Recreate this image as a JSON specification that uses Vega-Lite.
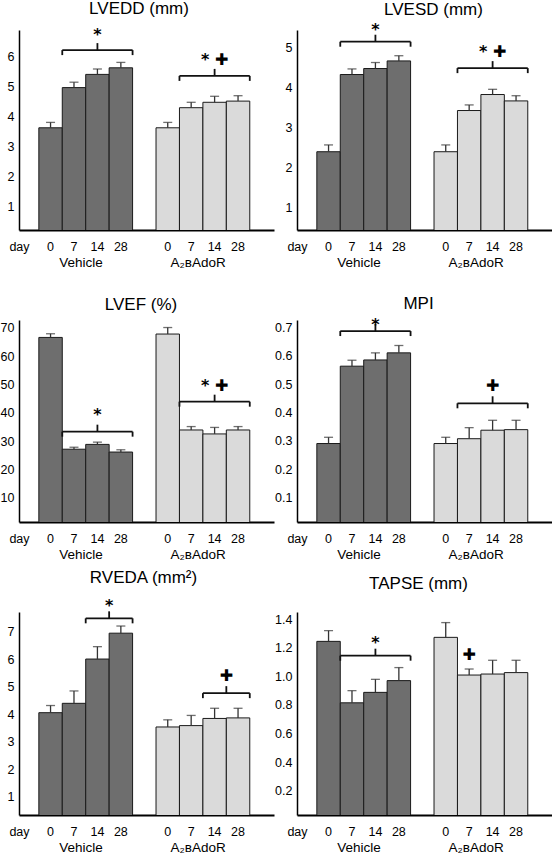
{
"$schema": "https://vega.github.io/schema/vega-lite/v6.json",
"padding": {"left": 0, "top": 0, "right": 0, "bottom": 0},
"background": "white",
"datasets": {
"bars": [
{"panel":"LVEDD","group":"Vehicle","cond":"Vehicle|0","mean":3.64,"upper":3.82},
{"panel":"LVEDD","group":"Vehicle","cond":"Vehicle|7","mean":4.98,"upper":5.16},
{"panel":"LVEDD","group":"Vehicle","cond":"Vehicle|14","mean":5.42,"upper":5.60},
{"panel":"LVEDD","group":"Vehicle","cond":"Vehicle|28","mean":5.64,"upper":5.82},
{"panel":"LVEDD","group":"A2BAdoR","cond":"A2BAdoR|0","mean":3.64,"upper":3.82},
{"panel":"LVEDD","group":"A2BAdoR","cond":"A2BAdoR|7","mean":4.31,"upper":4.49},
{"panel":"LVEDD","group":"A2BAdoR","cond":"A2BAdoR|14","mean":4.49,"upper":4.69},
{"panel":"LVEDD","group":"A2BAdoR","cond":"A2BAdoR|28","mean":4.53,"upper":4.71},
{"panel":"LVESD","group":"Vehicle","cond":"Vehicle|0","mean":2.40,"upper":2.57},
{"panel":"LVESD","group":"Vehicle","cond":"Vehicle|7","mean":4.33,"upper":4.47},
{"panel":"LVESD","group":"Vehicle","cond":"Vehicle|14","mean":4.48,"upper":4.63},
{"panel":"LVESD","group":"Vehicle","cond":"Vehicle|28","mean":4.67,"upper":4.80},
{"panel":"LVESD","group":"A2BAdoR","cond":"A2BAdoR|0","mean":2.40,"upper":2.57},
{"panel":"LVESD","group":"A2BAdoR","cond":"A2BAdoR|7","mean":3.43,"upper":3.57},
{"panel":"LVESD","group":"A2BAdoR","cond":"A2BAdoR|14","mean":3.83,"upper":3.96},
{"panel":"LVESD","group":"A2BAdoR","cond":"A2BAdoR|28","mean":3.67,"upper":3.80},
{"panel":"LVEF","group":"Vehicle","cond":"Vehicle|0","mean":66.6,"upper":67.9},
{"panel":"LVEF","group":"Vehicle","cond":"Vehicle|7","mean":27.1,"upper":27.8},
{"panel":"LVEF","group":"Vehicle","cond":"Vehicle|14","mean":28.8,"upper":29.6},
{"panel":"LVEF","group":"Vehicle","cond":"Vehicle|28","mean":26.1,"upper":26.9},
{"panel":"LVEF","group":"A2BAdoR","cond":"A2BAdoR|0","mean":67.8,"upper":70.1},
{"panel":"LVEF","group":"A2BAdoR","cond":"A2BAdoR|7","mean":33.9,"upper":35.1},
{"panel":"LVEF","group":"A2BAdoR","cond":"A2BAdoR|14","mean":32.5,"upper":34.8},
{"panel":"LVEF","group":"A2BAdoR","cond":"A2BAdoR|28","mean":33.9,"upper":35.1},
{"panel":"MPI","group":"Vehicle","cond":"Vehicle|0","mean":0.291,"upper":0.313},
{"panel":"MPI","group":"Vehicle","cond":"Vehicle|7","mean":0.564,"upper":0.585},
{"panel":"MPI","group":"Vehicle","cond":"Vehicle|14","mean":0.586,"upper":0.611},
{"panel":"MPI","group":"Vehicle","cond":"Vehicle|28","mean":0.611,"upper":0.637},
{"panel":"MPI","group":"A2BAdoR","cond":"A2BAdoR|0","mean":0.291,"upper":0.313},
{"panel":"MPI","group":"A2BAdoR","cond":"A2BAdoR|7","mean":0.308,"upper":0.347},
{"panel":"MPI","group":"A2BAdoR","cond":"A2BAdoR|14","mean":0.338,"upper":0.373},
{"panel":"MPI","group":"A2BAdoR","cond":"A2BAdoR|28","mean":0.340,"upper":0.373},
{"panel":"RVEDA","group":"Vehicle","cond":"Vehicle|0","mean":4.05,"upper":4.31},
{"panel":"RVEDA","group":"Vehicle","cond":"Vehicle|7","mean":4.39,"upper":4.84},
{"panel":"RVEDA","group":"Vehicle","cond":"Vehicle|14","mean":6.00,"upper":6.45},
{"panel":"RVEDA","group":"Vehicle","cond":"Vehicle|28","mean":6.94,"upper":7.20},
{"panel":"RVEDA","group":"A2BAdoR","cond":"A2BAdoR|0","mean":3.53,"upper":3.79},
{"panel":"RVEDA","group":"A2BAdoR","cond":"A2BAdoR|7","mean":3.58,"upper":3.95},
{"panel":"RVEDA","group":"A2BAdoR","cond":"A2BAdoR|14","mean":3.84,"upper":4.21},
{"panel":"RVEDA","group":"A2BAdoR","cond":"A2BAdoR|28","mean":3.86,"upper":4.21},
{"panel":"TAPSE","group":"Vehicle","cond":"Vehicle|0","mean":1.244,"upper":1.319},
{"panel":"TAPSE","group":"Vehicle","cond":"Vehicle|7","mean":0.815,"upper":0.900},
{"panel":"TAPSE","group":"Vehicle","cond":"Vehicle|14","mean":0.888,"upper":0.979},
{"panel":"TAPSE","group":"Vehicle","cond":"Vehicle|28","mean":0.970,"upper":1.061},
{"panel":"TAPSE","group":"A2BAdoR","cond":"A2BAdoR|0","mean":1.272,"upper":1.375},
{"panel":"TAPSE","group":"A2BAdoR","cond":"A2BAdoR|7","mean":1.009,"upper":1.051},
{"panel":"TAPSE","group":"A2BAdoR","cond":"A2BAdoR|14","mean":1.016,"upper":1.112},
{"panel":"TAPSE","group":"A2BAdoR","cond":"A2BAdoR|28","mean":1.026,"upper":1.112}
],
"brackets": [
{"panel":"LVEDD","from":"Vehicle|7","to":"Vehicle|28","at":"Vehicle|14","edge":"center","level":6.23},
{"panel":"LVEDD","from":"A2BAdoR|7","to":"A2BAdoR|28","at":"A2BAdoR|14","edge":"center","level":5.37},
{"panel":"LVESD","from":"Vehicle|7","to":"Vehicle|28","at":"Vehicle|14","edge":"center","level":5.15},
{"panel":"LVESD","from":"A2BAdoR|7","to":"A2BAdoR|28","at":"A2BAdoR|14","edge":"center","level":4.49},
{"panel":"LVEF","from":"Vehicle|7","to":"Vehicle|28","at":"Vehicle|14","edge":"center","level":33.3},
{"panel":"LVEF","from":"A2BAdoR|7","to":"A2BAdoR|28","at":"A2BAdoR|14","edge":"center","level":43.9},
{"panel":"MPI","from":"Vehicle|7","to":"Vehicle|28","at":"Vehicle|14","edge":"center","level":0.688},
{"panel":"MPI","from":"A2BAdoR|7","to":"A2BAdoR|28","at":"A2BAdoR|14","edge":"center","level":0.433},
{"panel":"RVEDA","from":"Vehicle|14","to":"Vehicle|28","at":"Vehicle|14","edge":"end","level":7.48},
{"panel":"RVEDA","from":"A2BAdoR|14","to":"A2BAdoR|28","at":"A2BAdoR|14","edge":"end","level":4.76},
{"panel":"TAPSE","from":"Vehicle|7","to":"Vehicle|28","at":"Vehicle|14","edge":"center","level":1.144}
],
"signif": [
{"panel":"LVEDD","at":"Vehicle|14","edge":"center","label":"*","level":6.83},
{"panel":"LVEDD","at":"A2BAdoR|14","edge":"center","label":"* ✚","level":6.0},
{"panel":"LVESD","at":"Vehicle|14","edge":"center","label":"*","level":5.53},
{"panel":"LVESD","at":"A2BAdoR|14","edge":"center","label":"* ✚","level":4.96},
{"panel":"LVEF","at":"Vehicle|14","edge":"center","label":"*","level":40.4},
{"panel":"LVEF","at":"A2BAdoR|14","edge":"center","label":"* ✚","level":50.6},
{"panel":"MPI","at":"Vehicle|14","edge":"center","label":"*","level":0.721},
{"panel":"MPI","at":"A2BAdoR|14","edge":"center","label":"✚","level":0.504},
{"panel":"RVEDA","at":"Vehicle|14","edge":"end","label":"*","level":8.03},
{"panel":"RVEDA","at":"A2BAdoR|14","edge":"end","label":"✚","level":5.48},
{"panel":"TAPSE","at":"Vehicle|14","edge":"center","label":"*","level":1.253},
{"panel":"TAPSE","at":"A2BAdoR|7","edge":"center","label":"✚","level":1.172}
]
},
"columns": 2,
"spacing": {"row": 90, "column": 23},
"bounds": "flush",
"concat": [
{"width":255,"height":200,"title":{"text":"LVEDD (mm)","dx":-7.5,"offset":9},
"resolve":{"axis":{"x":"independent"}},
"layer":[
{"data":{"name":"bars"},"transform":[{"filter":"datum.panel=='LVEDD'"}],"mark":{"type":"bar","stroke":"#1a1a1a","strokeWidth":1,"clip":true},
"encoding":{"x":{"field":"cond","type":"nominal","scale":{"domain":["Vehicle|0","Vehicle|7","Vehicle|14","Vehicle|28","gap","A2BAdoR|0","A2BAdoR|7","A2BAdoR|14","A2BAdoR|28"],"paddingInner":0,"paddingOuter":0.94,"align":0.45},
"axis":{"orient":"bottom","values":["Vehicle|0","Vehicle|7","Vehicle|14","Vehicle|28","A2BAdoR|0","A2BAdoR|7","A2BAdoR|14","A2BAdoR|28"],"labelExpr":"split(datum.value,'|')[1]","title":"day","titleX":0,"titleY":10,"titleBaseline":"top","titleAlign":"center","titleAngle":0}},
"y":{"field":"mean","type":"quantitative","title":null,"scale":{"domain":[0.233,6.9],"zero":false,"nice":false},"axis":{"values":[1,2,3,4,5,6],"format":"d"}},
"fill":{"field":"group","type":"nominal","scale":{"domain":["Vehicle","A2BAdoR"],"range":["#6e6e6e","#dadada"]},"legend":null}}},
{"data":{"name":"bars"},"transform":[{"filter":"datum.panel=='LVEDD'"}],"mark":{"type":"rule","color":"#333","strokeWidth":1.3},
"encoding":{"x":{"field":"cond","type":"nominal","axis":{"orient":"bottom","offset":15,"values":["Vehicle|7","A2BAdoR|7"],"labelExpr":"datum.value=='Vehicle|7' ? 'Vehicle' : 'A₂ʙAdoR'","labelOffset":7,"domain":false,"labelFontSize":13.5,"title":null}},
"y":{"field":"mean","type":"quantitative","title":null},"y2":{"field":"upper"}}},
{"data":{"name":"bars"},"transform":[{"filter":"datum.panel=='LVEDD'"}],"mark":{"type":"tick","color":"#333","size":9,"thickness":1.3},
"encoding":{"x":{"field":"cond","type":"nominal","axis":null},"y":{"field":"upper","type":"quantitative","title":null}}},
{"data":{"name":"brackets"},"transform":[{"filter":"datum.panel=='LVEDD'"}],"mark":{"type":"rule","color":"#111","strokeWidth":1.8},
"encoding":{"x":{"field":"from","type":"nominal","bandPosition":0,"axis":null},"x2":{"field":"to","bandPosition":1},"y":{"field":"level","type":"quantitative","title":null}}},
{"data":{"name":"brackets"},"transform":[{"filter":"datum.panel=='LVEDD'"}],"mark":{"type":"rule","color":"#111","strokeWidth":1.8,"y2Offset":5},
"encoding":{"x":{"field":"from","type":"nominal","bandPosition":0,"axis":null},"y":{"field":"level","type":"quantitative","title":null},"y2":{"field":"level"}}},
{"data":{"name":"brackets"},"transform":[{"filter":"datum.panel=='LVEDD'"}],"mark":{"type":"rule","color":"#111","strokeWidth":1.8,"y2Offset":5},
"encoding":{"x":{"field":"to","type":"nominal","bandPosition":1,"axis":null},"y":{"field":"level","type":"quantitative","title":null},"y2":{"field":"level"}}},
{"data":{"name":"brackets"},"transform":[{"filter":"datum.panel=='LVEDD' && datum.edge=='center'"}],"mark":{"type":"rule","color":"#111","strokeWidth":1.8,"y2Offset":-7},
"encoding":{"x":{"field":"at","type":"nominal","bandPosition":0.5,"axis":null},"y":{"field":"level","type":"quantitative","title":null},"y2":{"field":"level"}}},
{"data":{"name":"signif"},"transform":[{"filter":"datum.panel=='LVEDD' && datum.edge=='center'"}],"mark":{"type":"text","font":"DejaVu Sans","fontWeight":"bold","fontSize":16,"baseline":"middle","dy":3},
"encoding":{"x":{"field":"at","type":"nominal","bandPosition":0.5,"axis":null},"y":{"field":"level","type":"quantitative","title":null},"text":{"field":"label"}}}
]},
{"width":255,"height":200,"title":{"text":"LVESD (mm)","dx":9,"offset":3},
"resolve":{"axis":{"x":"independent"}},
"layer":[
{"data":{"name":"bars"},"transform":[{"filter":"datum.panel=='LVESD'"}],"mark":{"type":"bar","stroke":"#1a1a1a","strokeWidth":1,"clip":true},
"encoding":{"x":{"field":"cond","type":"nominal","scale":{"domain":["Vehicle|0","Vehicle|7","Vehicle|14","Vehicle|28","gap","A2BAdoR|0","A2BAdoR|7","A2BAdoR|14","A2BAdoR|28"],"paddingInner":0,"paddingOuter":0.94,"align":0.45},
"axis":{"orient":"bottom","values":["Vehicle|0","Vehicle|7","Vehicle|14","Vehicle|28","A2BAdoR|0","A2BAdoR|7","A2BAdoR|14","A2BAdoR|28"],"labelExpr":"split(datum.value,'|')[1]","title":"day","titleX":0,"titleY":10,"titleBaseline":"top","titleAlign":"center","titleAngle":0}},
"y":{"field":"mean","type":"quantitative","title":null,"scale":{"domain":[0.443,5.443],"zero":false,"nice":false},"axis":{"values":[1,2,3,4,5],"format":"d"}},
"fill":{"field":"group","type":"nominal","scale":{"domain":["Vehicle","A2BAdoR"],"range":["#6e6e6e","#dadada"]},"legend":null}}},
{"data":{"name":"bars"},"transform":[{"filter":"datum.panel=='LVESD'"}],"mark":{"type":"rule","color":"#333","strokeWidth":1.3},
"encoding":{"x":{"field":"cond","type":"nominal","axis":{"orient":"bottom","offset":15,"values":["Vehicle|7","A2BAdoR|7"],"labelExpr":"datum.value=='Vehicle|7' ? 'Vehicle' : 'A₂ʙAdoR'","labelOffset":7,"domain":false,"labelFontSize":13.5,"title":null}},
"y":{"field":"mean","type":"quantitative","title":null},"y2":{"field":"upper"}}},
{"data":{"name":"bars"},"transform":[{"filter":"datum.panel=='LVESD'"}],"mark":{"type":"tick","color":"#333","size":9,"thickness":1.3},
"encoding":{"x":{"field":"cond","type":"nominal","axis":null},"y":{"field":"upper","type":"quantitative","title":null}}},
{"data":{"name":"brackets"},"transform":[{"filter":"datum.panel=='LVESD'"}],"mark":{"type":"rule","color":"#111","strokeWidth":1.8},
"encoding":{"x":{"field":"from","type":"nominal","bandPosition":0,"axis":null},"x2":{"field":"to","bandPosition":1},"y":{"field":"level","type":"quantitative","title":null}}},
{"data":{"name":"brackets"},"transform":[{"filter":"datum.panel=='LVESD'"}],"mark":{"type":"rule","color":"#111","strokeWidth":1.8,"y2Offset":5},
"encoding":{"x":{"field":"from","type":"nominal","bandPosition":0,"axis":null},"y":{"field":"level","type":"quantitative","title":null},"y2":{"field":"level"}}},
{"data":{"name":"brackets"},"transform":[{"filter":"datum.panel=='LVESD'"}],"mark":{"type":"rule","color":"#111","strokeWidth":1.8,"y2Offset":5},
"encoding":{"x":{"field":"to","type":"nominal","bandPosition":1,"axis":null},"y":{"field":"level","type":"quantitative","title":null},"y2":{"field":"level"}}},
{"data":{"name":"brackets"},"transform":[{"filter":"datum.panel=='LVESD' && datum.edge=='center'"}],"mark":{"type":"rule","color":"#111","strokeWidth":1.8,"y2Offset":-7},
"encoding":{"x":{"field":"at","type":"nominal","bandPosition":0.5,"axis":null},"y":{"field":"level","type":"quantitative","title":null},"y2":{"field":"level"}}},
{"data":{"name":"signif"},"transform":[{"filter":"datum.panel=='LVESD' && datum.edge=='center'"}],"mark":{"type":"text","font":"DejaVu Sans","fontWeight":"bold","fontSize":16,"baseline":"middle","dy":3},
"encoding":{"x":{"field":"at","type":"nominal","bandPosition":0.5,"axis":null},"y":{"field":"level","type":"quantitative","title":null},"text":{"field":"label"}}}
]},
{"width":255,"height":202,"title":{"text":"LVEF (%)","dx":-5.5,"offset":6},
"resolve":{"axis":{"x":"independent"}},
"layer":[
{"data":{"name":"bars"},"transform":[{"filter":"datum.panel=='LVEF'"}],"mark":{"type":"bar","stroke":"#1a1a1a","strokeWidth":1,"clip":true},
"encoding":{"x":{"field":"cond","type":"nominal","scale":{"domain":["Vehicle|0","Vehicle|7","Vehicle|14","Vehicle|28","gap","A2BAdoR|0","A2BAdoR|7","A2BAdoR|14","A2BAdoR|28"],"paddingInner":0,"paddingOuter":0.94,"align":0.45},
"axis":{"orient":"bottom","values":["Vehicle|0","Vehicle|7","Vehicle|14","Vehicle|28","A2BAdoR|0","A2BAdoR|7","A2BAdoR|14","A2BAdoR|28"],"labelExpr":"split(datum.value,'|')[1]","title":"day","titleX":0,"titleY":10,"titleBaseline":"top","titleAlign":"center","titleAngle":0}},
"y":{"field":"mean","type":"quantitative","title":null,"scale":{"domain":[1.38,72.76],"zero":false,"nice":false},"axis":{"values":[10,20,30,40,50,60,70],"format":"d"}},
"fill":{"field":"group","type":"nominal","scale":{"domain":["Vehicle","A2BAdoR"],"range":["#6e6e6e","#dadada"]},"legend":null}}},
{"data":{"name":"bars"},"transform":[{"filter":"datum.panel=='LVEF'"}],"mark":{"type":"rule","color":"#333","strokeWidth":1.3},
"encoding":{"x":{"field":"cond","type":"nominal","axis":{"orient":"bottom","offset":15,"values":["Vehicle|7","A2BAdoR|7"],"labelExpr":"datum.value=='Vehicle|7' ? 'Vehicle' : 'A₂ʙAdoR'","labelOffset":7,"domain":false,"labelFontSize":13.5,"title":null}},
"y":{"field":"mean","type":"quantitative","title":null},"y2":{"field":"upper"}}},
{"data":{"name":"bars"},"transform":[{"filter":"datum.panel=='LVEF'"}],"mark":{"type":"tick","color":"#333","size":9,"thickness":1.3},
"encoding":{"x":{"field":"cond","type":"nominal","axis":null},"y":{"field":"upper","type":"quantitative","title":null}}},
{"data":{"name":"brackets"},"transform":[{"filter":"datum.panel=='LVEF'"}],"mark":{"type":"rule","color":"#111","strokeWidth":1.8},
"encoding":{"x":{"field":"from","type":"nominal","bandPosition":0,"axis":null},"x2":{"field":"to","bandPosition":1},"y":{"field":"level","type":"quantitative","title":null}}},
{"data":{"name":"brackets"},"transform":[{"filter":"datum.panel=='LVEF'"}],"mark":{"type":"rule","color":"#111","strokeWidth":1.8,"y2Offset":5},
"encoding":{"x":{"field":"from","type":"nominal","bandPosition":0,"axis":null},"y":{"field":"level","type":"quantitative","title":null},"y2":{"field":"level"}}},
{"data":{"name":"brackets"},"transform":[{"filter":"datum.panel=='LVEF'"}],"mark":{"type":"rule","color":"#111","strokeWidth":1.8,"y2Offset":5},
"encoding":{"x":{"field":"to","type":"nominal","bandPosition":1,"axis":null},"y":{"field":"level","type":"quantitative","title":null},"y2":{"field":"level"}}},
{"data":{"name":"brackets"},"transform":[{"filter":"datum.panel=='LVEF' && datum.edge=='center'"}],"mark":{"type":"rule","color":"#111","strokeWidth":1.8,"y2Offset":-7},
"encoding":{"x":{"field":"at","type":"nominal","bandPosition":0.5,"axis":null},"y":{"field":"level","type":"quantitative","title":null},"y2":{"field":"level"}}},
{"data":{"name":"signif"},"transform":[{"filter":"datum.panel=='LVEF' && datum.edge=='center'"}],"mark":{"type":"text","font":"DejaVu Sans","fontWeight":"bold","fontSize":16,"baseline":"middle","dy":3},
"encoding":{"x":{"field":"at","type":"nominal","bandPosition":0.5,"axis":null},"y":{"field":"level","type":"quantitative","title":null},"text":{"field":"label"}}}
]},
{"width":255,"height":202,"title":{"text":"MPI","dx":-6,"offset":4},
"resolve":{"axis":{"x":"independent"}},
"layer":[
{"data":{"name":"bars"},"transform":[{"filter":"datum.panel=='MPI'"}],"mark":{"type":"bar","stroke":"#1a1a1a","strokeWidth":1,"clip":true},
"encoding":{"x":{"field":"cond","type":"nominal","scale":{"domain":["Vehicle|0","Vehicle|7","Vehicle|14","Vehicle|28","gap","A2BAdoR|0","A2BAdoR|7","A2BAdoR|14","A2BAdoR|28"],"paddingInner":0,"paddingOuter":0.94,"align":0.45},
"axis":{"orient":"bottom","values":["Vehicle|0","Vehicle|7","Vehicle|14","Vehicle|28","A2BAdoR|0","A2BAdoR|7","A2BAdoR|14","A2BAdoR|28"],"labelExpr":"split(datum.value,'|')[1]","title":"day","titleX":0,"titleY":10,"titleBaseline":"top","titleAlign":"center","titleAngle":0}},
"y":{"field":"mean","type":"quantitative","title":null,"scale":{"domain":[0.014,0.727],"zero":false,"nice":false},"axis":{"values":[0.1,0.2,0.3,0.4,0.5,0.6,0.7],"format":".1f"}},
"fill":{"field":"group","type":"nominal","scale":{"domain":["Vehicle","A2BAdoR"],"range":["#6e6e6e","#dadada"]},"legend":null}}},
{"data":{"name":"bars"},"transform":[{"filter":"datum.panel=='MPI'"}],"mark":{"type":"rule","color":"#333","strokeWidth":1.3},
"encoding":{"x":{"field":"cond","type":"nominal","axis":{"orient":"bottom","offset":15,"values":["Vehicle|7","A2BAdoR|7"],"labelExpr":"datum.value=='Vehicle|7' ? 'Vehicle' : 'A₂ʙAdoR'","labelOffset":7,"domain":false,"labelFontSize":13.5,"title":null}},
"y":{"field":"mean","type":"quantitative","title":null},"y2":{"field":"upper"}}},
{"data":{"name":"bars"},"transform":[{"filter":"datum.panel=='MPI'"}],"mark":{"type":"tick","color":"#333","size":9,"thickness":1.3},
"encoding":{"x":{"field":"cond","type":"nominal","axis":null},"y":{"field":"upper","type":"quantitative","title":null}}},
{"data":{"name":"brackets"},"transform":[{"filter":"datum.panel=='MPI'"}],"mark":{"type":"rule","color":"#111","strokeWidth":1.8},
"encoding":{"x":{"field":"from","type":"nominal","bandPosition":0,"axis":null},"x2":{"field":"to","bandPosition":1},"y":{"field":"level","type":"quantitative","title":null}}},
{"data":{"name":"brackets"},"transform":[{"filter":"datum.panel=='MPI'"}],"mark":{"type":"rule","color":"#111","strokeWidth":1.8,"y2Offset":5},
"encoding":{"x":{"field":"from","type":"nominal","bandPosition":0,"axis":null},"y":{"field":"level","type":"quantitative","title":null},"y2":{"field":"level"}}},
{"data":{"name":"brackets"},"transform":[{"filter":"datum.panel=='MPI'"}],"mark":{"type":"rule","color":"#111","strokeWidth":1.8,"y2Offset":5},
"encoding":{"x":{"field":"to","type":"nominal","bandPosition":1,"axis":null},"y":{"field":"level","type":"quantitative","title":null},"y2":{"field":"level"}}},
{"data":{"name":"brackets"},"transform":[{"filter":"datum.panel=='MPI' && datum.edge=='center'"}],"mark":{"type":"rule","color":"#111","strokeWidth":1.8,"y2Offset":-7},
"encoding":{"x":{"field":"at","type":"nominal","bandPosition":0.5,"axis":null},"y":{"field":"level","type":"quantitative","title":null},"y2":{"field":"level"}}},
{"data":{"name":"signif"},"transform":[{"filter":"datum.panel=='MPI' && datum.edge=='center'"}],"mark":{"type":"text","font":"DejaVu Sans","fontWeight":"bold","fontSize":16,"baseline":"middle","dy":3},
"encoding":{"x":{"field":"at","type":"nominal","bandPosition":0.5,"axis":null},"y":{"field":"level","type":"quantitative","title":null},"text":{"field":"label"}}}
]},
{"width":255,"height":203,"title":{"text":"RVEDA (mm²)","dx":-3,"offset":11.5},
"resolve":{"axis":{"x":"independent"}},
"layer":[
{"data":{"name":"bars"},"transform":[{"filter":"datum.panel=='RVEDA'"}],"mark":{"type":"bar","stroke":"#1a1a1a","strokeWidth":1,"clip":true},
"encoding":{"x":{"field":"cond","type":"nominal","scale":{"domain":["Vehicle|0","Vehicle|7","Vehicle|14","Vehicle|28","gap","A2BAdoR|0","A2BAdoR|7","A2BAdoR|14","A2BAdoR|28"],"paddingInner":0,"paddingOuter":0.94,"align":0.45},
"axis":{"orient":"bottom","values":["Vehicle|0","Vehicle|7","Vehicle|14","Vehicle|28","A2BAdoR|0","A2BAdoR|7","A2BAdoR|14","A2BAdoR|28"],"labelExpr":"split(datum.value,'|')[1]","title":"day","titleX":0,"titleY":10,"titleBaseline":"top","titleAlign":"center","titleAngle":0}},
"y":{"field":"mean","type":"quantitative","title":null,"scale":{"domain":[0.33,7.71],"zero":false,"nice":false},"axis":{"values":[1,2,3,4,5,6,7],"format":"d"}},
"fill":{"field":"group","type":"nominal","scale":{"domain":["Vehicle","A2BAdoR"],"range":["#6e6e6e","#dadada"]},"legend":null}}},
{"data":{"name":"bars"},"transform":[{"filter":"datum.panel=='RVEDA'"}],"mark":{"type":"rule","color":"#333","strokeWidth":1.3},
"encoding":{"x":{"field":"cond","type":"nominal","axis":{"orient":"bottom","offset":15,"values":["Vehicle|7","A2BAdoR|7"],"labelExpr":"datum.value=='Vehicle|7' ? 'Vehicle' : 'A₂ʙAdoR'","labelOffset":7,"domain":false,"labelFontSize":13.5,"title":null}},
"y":{"field":"mean","type":"quantitative","title":null},"y2":{"field":"upper"}}},
{"data":{"name":"bars"},"transform":[{"filter":"datum.panel=='RVEDA'"}],"mark":{"type":"tick","color":"#333","size":9,"thickness":1.3},
"encoding":{"x":{"field":"cond","type":"nominal","axis":null},"y":{"field":"upper","type":"quantitative","title":null}}},
{"data":{"name":"brackets"},"transform":[{"filter":"datum.panel=='RVEDA'"}],"mark":{"type":"rule","color":"#111","strokeWidth":1.8},
"encoding":{"x":{"field":"from","type":"nominal","bandPosition":0,"axis":null},"x2":{"field":"to","bandPosition":1},"y":{"field":"level","type":"quantitative","title":null}}},
{"data":{"name":"brackets"},"transform":[{"filter":"datum.panel=='RVEDA'"}],"mark":{"type":"rule","color":"#111","strokeWidth":1.8,"y2Offset":5},
"encoding":{"x":{"field":"from","type":"nominal","bandPosition":0,"axis":null},"y":{"field":"level","type":"quantitative","title":null},"y2":{"field":"level"}}},
{"data":{"name":"brackets"},"transform":[{"filter":"datum.panel=='RVEDA'"}],"mark":{"type":"rule","color":"#111","strokeWidth":1.8,"y2Offset":5},
"encoding":{"x":{"field":"to","type":"nominal","bandPosition":1,"axis":null},"y":{"field":"level","type":"quantitative","title":null},"y2":{"field":"level"}}},
{"data":{"name":"brackets"},"transform":[{"filter":"datum.panel=='RVEDA' && datum.edge=='end'"}],"mark":{"type":"rule","color":"#111","strokeWidth":1.8,"y2Offset":-7},
"encoding":{"x":{"field":"at","type":"nominal","bandPosition":1,"axis":null},"y":{"field":"level","type":"quantitative","title":null},"y2":{"field":"level"}}},
{"data":{"name":"signif"},"transform":[{"filter":"datum.panel=='RVEDA' && datum.edge=='end'"}],"mark":{"type":"text","font":"DejaVu Sans","fontWeight":"bold","fontSize":16,"baseline":"middle","dy":3},
"encoding":{"x":{"field":"at","type":"nominal","bandPosition":1,"axis":null},"y":{"field":"level","type":"quantitative","title":null},"text":{"field":"label"}}}
]},
{"width":255,"height":203,"title":{"text":"TAPSE (mm)","dx":-6,"offset":19.5},
"resolve":{"axis":{"x":"independent"}},
"layer":[
{"data":{"name":"bars"},"transform":[{"filter":"datum.panel=='TAPSE'"}],"mark":{"type":"bar","stroke":"#1a1a1a","strokeWidth":1,"clip":true},
"encoding":{"x":{"field":"cond","type":"nominal","scale":{"domain":["Vehicle|0","Vehicle|7","Vehicle|14","Vehicle|28","gap","A2BAdoR|0","A2BAdoR|7","A2BAdoR|14","A2BAdoR|28"],"paddingInner":0,"paddingOuter":0.94,"align":0.45},
"axis":{"orient":"bottom","values":["Vehicle|0","Vehicle|7","Vehicle|14","Vehicle|28","A2BAdoR|0","A2BAdoR|7","A2BAdoR|14","A2BAdoR|28"],"labelExpr":"split(datum.value,'|')[1]","title":"day","titleX":0,"titleY":10,"titleBaseline":"top","titleAlign":"center","titleAngle":0}},
"y":{"field":"mean","type":"quantitative","title":null,"scale":{"domain":[0.032,1.449],"zero":false,"nice":false},"axis":{"values":[0.2,0.4,0.6,0.8,1.0,1.2,1.4],"format":".1f"}},
"fill":{"field":"group","type":"nominal","scale":{"domain":["Vehicle","A2BAdoR"],"range":["#6e6e6e","#dadada"]},"legend":null}}},
{"data":{"name":"bars"},"transform":[{"filter":"datum.panel=='TAPSE'"}],"mark":{"type":"rule","color":"#333","strokeWidth":1.3},
"encoding":{"x":{"field":"cond","type":"nominal","axis":{"orient":"bottom","offset":15,"values":["Vehicle|7","A2BAdoR|7"],"labelExpr":"datum.value=='Vehicle|7' ? 'Vehicle' : 'A₂ʙAdoR'","labelOffset":7,"domain":false,"labelFontSize":13.5,"title":null}},
"y":{"field":"mean","type":"quantitative","title":null},"y2":{"field":"upper"}}},
{"data":{"name":"bars"},"transform":[{"filter":"datum.panel=='TAPSE'"}],"mark":{"type":"tick","color":"#333","size":9,"thickness":1.3},
"encoding":{"x":{"field":"cond","type":"nominal","axis":null},"y":{"field":"upper","type":"quantitative","title":null}}},
{"data":{"name":"brackets"},"transform":[{"filter":"datum.panel=='TAPSE'"}],"mark":{"type":"rule","color":"#111","strokeWidth":1.8},
"encoding":{"x":{"field":"from","type":"nominal","bandPosition":0,"axis":null},"x2":{"field":"to","bandPosition":1},"y":{"field":"level","type":"quantitative","title":null}}},
{"data":{"name":"brackets"},"transform":[{"filter":"datum.panel=='TAPSE'"}],"mark":{"type":"rule","color":"#111","strokeWidth":1.8,"y2Offset":5},
"encoding":{"x":{"field":"from","type":"nominal","bandPosition":0,"axis":null},"y":{"field":"level","type":"quantitative","title":null},"y2":{"field":"level"}}},
{"data":{"name":"brackets"},"transform":[{"filter":"datum.panel=='TAPSE'"}],"mark":{"type":"rule","color":"#111","strokeWidth":1.8,"y2Offset":5},
"encoding":{"x":{"field":"to","type":"nominal","bandPosition":1,"axis":null},"y":{"field":"level","type":"quantitative","title":null},"y2":{"field":"level"}}},
{"data":{"name":"brackets"},"transform":[{"filter":"datum.panel=='TAPSE' && datum.edge=='center'"}],"mark":{"type":"rule","color":"#111","strokeWidth":1.8,"y2Offset":-7},
"encoding":{"x":{"field":"at","type":"nominal","bandPosition":0.5,"axis":null},"y":{"field":"level","type":"quantitative","title":null},"y2":{"field":"level"}}},
{"data":{"name":"signif"},"transform":[{"filter":"datum.panel=='TAPSE' && datum.edge=='center'"}],"mark":{"type":"text","font":"DejaVu Sans","fontWeight":"bold","fontSize":16,"baseline":"middle","dy":3},
"encoding":{"x":{"field":"at","type":"nominal","bandPosition":0.5,"axis":null},"y":{"field":"level","type":"quantitative","title":null},"text":{"field":"label"}}}
]}
],
"config": {
"view": {"stroke": null},
"font": "Liberation Sans",
"title": {"fontSize": 17, "fontWeight": "normal", "baseline": "alphabetic", "frame": "group", "anchor": "middle", "color": "#000", "font": "Liberation Sans"},
"axis": {"ticks": false, "grid": false, "domainColor": "#000", "labelColor": "#000", "labelFontSize": 12.5, "labelFont": "Liberation Sans", "titleColor": "#000", "titleFontWeight": "normal", "titleFontSize": 12.5, "titleFont": "Liberation Sans", "labelOverlap": false, "labelBound": false, "labelFlush": false, "tickCount": 50},
"axisY": {"domainWidth": 1.5, "labelPadding": 5},
"axisX": {"domainWidth": 2, "labelAngle": 0, "labelPadding": 10}
}
}
